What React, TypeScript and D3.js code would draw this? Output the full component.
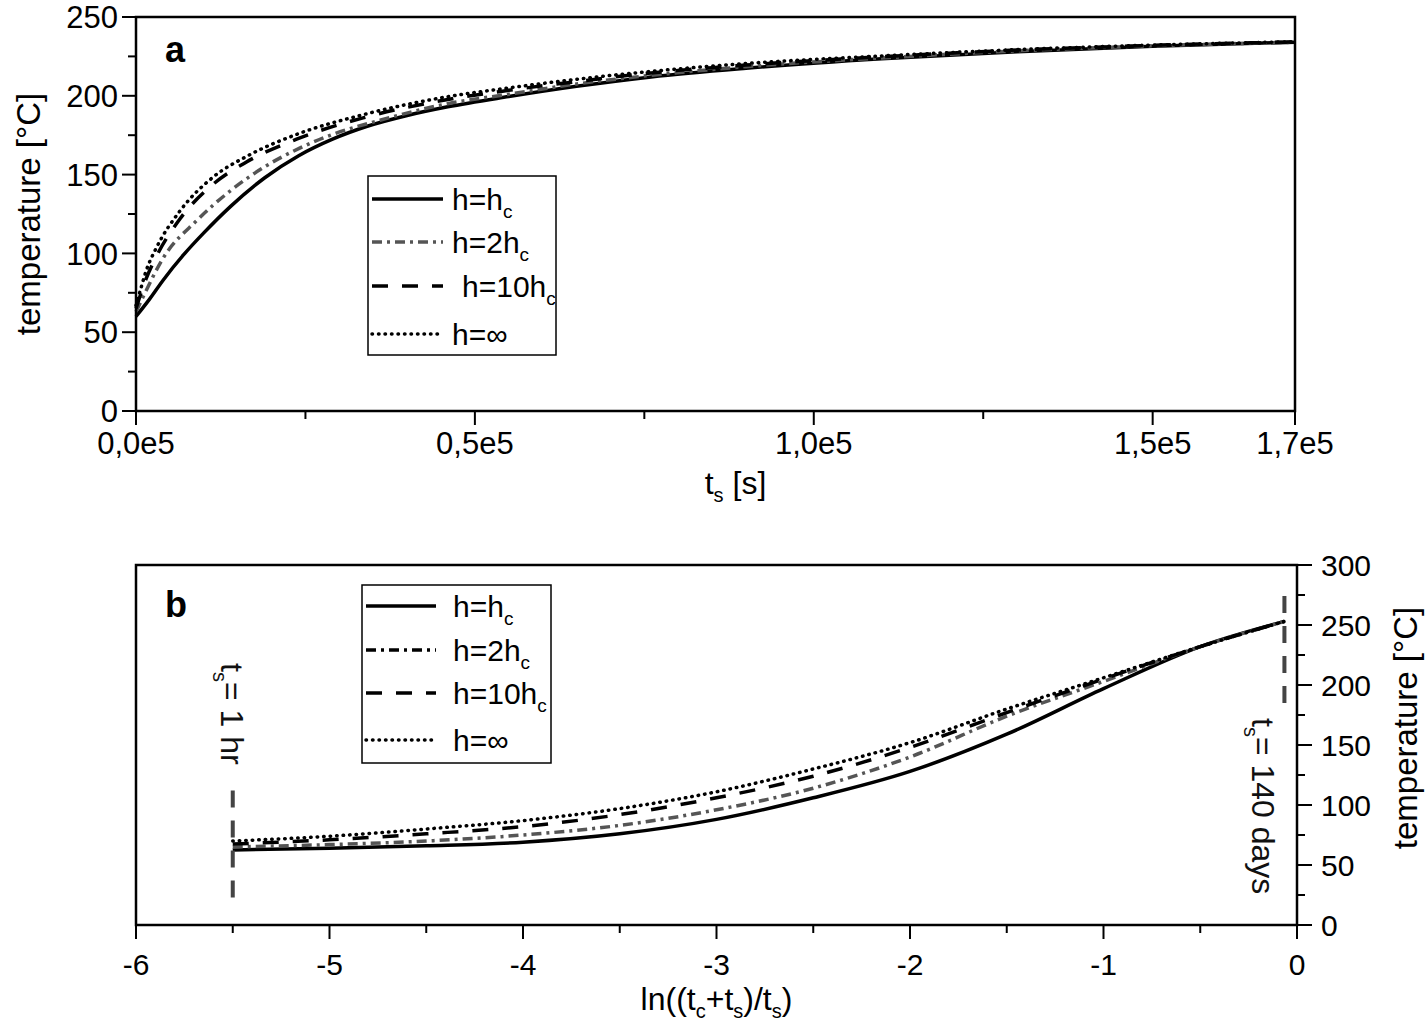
import React from 'react';
import * as d3 from 'd3';

const FONT = '"Liberation Sans", Arial, Helvetica, sans-serif';

// ---- panel a: temperature [°C] against shut-in time t_s [s]
const aSolid: [number, number][] = [
  [0, 60], [2000, 71], [4000, 83], [7000, 99], [10000, 113], [14000, 130],
  [19000, 148], [24000, 162], [29000, 172.5], [34000, 180.5], [40000, 187.5],
  [46000, 193], [55000, 199.5], [65000, 206], [76000, 212], [90000, 217.5],
  [110000, 223.5], [130000, 228], [150000, 231.5], [171000, 234],
];
const aDashDot: [number, number][] = [
  [0, 63], [1000, 72], [4000, 97], [9000, 121], [14000, 140], [19000, 155],
  [24000, 166.5], [29000, 175.5], [36000, 184.5], [46000, 195], [55000, 201],
  [65000, 207.5], [76000, 213], [90000, 218.5], [110000, 224], [130000, 228.5],
  [150000, 231.7], [171000, 234],
];
const aDashed: [number, number][] = [
  [0, 65], [600, 73], [1500, 84], [3000, 98], [6500, 122], [11400, 144],
  [16300, 158], [23700, 172.5], [33500, 186], [45800, 197.5], [55000, 203.5],
  [65000, 209], [76000, 214.5], [90000, 219.5], [110000, 224.8], [130000, 229],
  [150000, 232], [171000, 234.2],
];
const aDotted: [number, number][] = [
  [0, 67], [600, 76], [1500, 89], [3000, 103.5], [6500, 127], [11400, 148.5],
  [16300, 161.5], [23700, 175.5], [33500, 188], [45800, 199.3], [55000, 205],
  [65000, 210.5], [76000, 215.5], [90000, 220.5], [110000, 225.3],
  [130000, 229.3], [150000, 232.2], [171000, 234.3],
];

const aYTicks = [0, 50, 100, 150, 200, 250];
const aYMinor = [25, 75, 125, 175, 225];
const aXTicks = [0, 50000, 100000, 150000, 171000];
const aXLabels = ['0,0e5', '0,5e5', '1,0e5', '1,5e5', '1,7e5'];
const aXMinor = [25000, 75000, 125000];

// ---- panel b: temperature [°C] against ln((t_c+t_s)/t_s)
const bSolid: [number, number][] = [
  [-5.5, 62.5], [-5, 64], [-4.5, 66], [-4, 69], [-3.5, 76], [-3, 88],
  [-2.5, 106], [-2, 128], [-1.5, 159], [-1, 197], [-0.5, 232], [-0.065, 253],
];
const bDashDot: [number, number][] = [
  [-5.5, 65], [-5, 67], [-4.5, 70], [-4, 75], [-3.5, 83], [-3, 96],
  [-2.5, 114], [-2, 140], [-1.5, 174], [-1, 203], [-0.5, 232], [-0.065, 253],
];
const bDashed: [number, number][] = [
  [-5.5, 67.5], [-5, 71], [-4.5, 76], [-4, 82], [-3.5, 92], [-3, 106],
  [-2.5, 124], [-2, 148], [-1.5, 177], [-1, 205], [-0.5, 232], [-0.065, 253],
];
const bDotted: [number, number][] = [
  [-5.5, 70], [-5, 74], [-4.5, 80], [-4, 87], [-3.5, 97], [-3, 111],
  [-2.5, 130], [-2, 152], [-1.5, 180], [-1, 206], [-0.5, 232], [-0.065, 253],
];

const bYTicks = [0, 50, 100, 150, 200, 250, 300];
const bYMinor = [25, 75, 125, 175, 225, 275];
const bXTicks = [-6, -5, -4, -3, -2, -1, 0];
const bXMinor = [-5.5, -4.5, -3.5, -2.5, -1.5, -0.5];

// vertical markers: x position and temperature span
const markerHour = { x: -5.5, from: 23, to: 122 };
const markerDays = { x: -0.065, from: 185, to: 282 };

const legendNames = [
  { pre: 'h=h', sub: 'c' },
  { pre: 'h=2h', sub: 'c' },
  { pre: 'h=10h', sub: 'c' },
  { pre: 'h=∞', sub: '' },
];

const styles = [
  { color: '#000', dash: undefined as string | undefined, cap: 'butt' },
  { color: '#555', dash: '10 5 3 5', cap: 'butt' },
  { color: '#000', dash: '16 14', cap: 'butt' },
  { color: '#000', dash: '0.5 6', cap: 'round' },
];

const xA = d3.scaleLinear().domain([0, 171000]).range([136, 1295]);
const yA = d3.scaleLinear().domain([0, 250]).range([411, 17]);
const xB = d3.scaleLinear().domain([-6, 0]).range([136, 1297]);
const yB = d3.scaleLinear().domain([0, 300]).range([925, 565]);

function Sub({ pre, sub, size, subSize }: { pre: string; sub: string; size: number; subSize: number }) {
  return (
    <>
      <tspan fontSize={size}>{pre}</tspan>
      {sub && <tspan fontSize={subSize} dy={8}>{sub}</tspan>}
    </>
  );
}

function Legend({ x, y, w, h, rows, sx0, sx1, tx, colors }: any) {
  return (
    <g>
      <rect x={x} y={y} width={w} height={h} fill="white" stroke="#000" strokeWidth={1.5} />
      {legendNames.map((n, i) => (
        <g key={i}>
          <line x1={sx0} x2={sx1} y1={rows[i]} y2={rows[i]}
            stroke={colors[i]} strokeWidth={3.5}
            strokeDasharray={styles[i].dash} strokeLinecap={styles[i].cap as any} />
          <text x={tx[i]} y={rows[i] + 11} fontFamily={FONT} fill="#000">
            <Sub pre={n.pre} sub={n.sub} size={30} subSize={19} />
          </text>
        </g>
      ))}
    </g>
  );
}

export default function App() {
  const lineA = d3.line<[number, number]>().x(d => xA(d[0])).y(d => yA(d[1])).curve(d3.curveMonotoneX);
  const lineB = d3.line<[number, number]>().x(d => xB(d[0])).y(d => yB(d[1])).curve(d3.curveMonotoneX);
  const aSeries = [aSolid, aDashDot, aDashed, aDotted];
  const bSeries = [bSolid, bDashDot, bDashed, bDotted];
  const [ax0, ax1] = xA.range();
  const [ay0, ay1] = yA.range();
  const [bx0, bx1] = xB.range();
  const [by0, by1] = yB.range();

  return (
    <svg width={1427} height={1032} style={{ position: 'absolute', left: 0, top: 0, background: '#fff' }}>
      {/* ---------- panel a ---------- */}
      {aSeries.map((s, i) => (
        <path key={'a' + i} d={lineA(s) || ''} fill="none" stroke={styles[i].color}
          strokeWidth={3.5} strokeDasharray={styles[i].dash} strokeLinecap={styles[i].cap as any} />
      ))}
      <rect x={ax0} y={ay1} width={ax1 - ax0} height={ay0 - ay1} fill="none" stroke="#000" strokeWidth={2.5} />
      {aYTicks.map(t => (
        <g key={'ay' + t}>
          <line x1={ax0 - 14} x2={ax0} y1={yA(t)} y2={yA(t)} stroke="#000" strokeWidth={2} />
          <text x={ax0 - 18} y={yA(t)} dy="0.36em" textAnchor="end" fontFamily={FONT} fontSize={31}>{t}</text>
        </g>
      ))}
      {aYMinor.map(t => (
        <line key={'aym' + t} x1={ax0 - 8} x2={ax0} y1={yA(t)} y2={yA(t)} stroke="#000" strokeWidth={2} />
      ))}
      {aXTicks.map((t, i) => (
        <g key={'ax' + t}>
          <line x1={xA(t)} x2={xA(t)} y1={ay0} y2={ay0 + 14} stroke="#000" strokeWidth={2} />
          <text x={xA(t)} y={ay0 + 43} textAnchor="middle" fontFamily={FONT} fontSize={31}>{aXLabels[i]}</text>
        </g>
      ))}
      {aXMinor.map(t => (
        <line key={'axm' + t} x1={xA(t)} x2={xA(t)} y1={ay0} y2={ay0 + 8} stroke="#000" strokeWidth={2} />
      ))}
      <text x={(ax0 + ax1) / 2 + 20} y={494} textAnchor="middle" fontFamily={FONT}>
        <Sub pre="t" sub="s" size={32} subSize={20} />
        <tspan fontSize={32} dy={-8}> [s]</tspan>
      </text>
      <text transform={`translate(40,${(ay0 + ay1) / 2}) rotate(-90)`} textAnchor="middle"
        fontFamily={FONT} fontSize={33}>temperature [°C]</text>
      <text x={165} y={62} fontFamily={FONT} fontSize={36} fontWeight="bold">a</text>
      <Legend x={368} y={176} w={188} h={179} rows={[199, 242, 286, 334]} sx0={372} sx1={443}
        tx={[452, 452, 462, 452]} colors={['#000', '#555', '#000', '#000']} />

      {/* ---------- panel b ---------- */}
      {bSeries.map((s, i) => (
        <path key={'b' + i} d={lineB(s) || ''} fill="none" stroke={styles[i].color}
          strokeWidth={3.5} strokeDasharray={styles[i].dash} strokeLinecap={styles[i].cap as any} />
      ))}
      {[markerHour, markerDays].map((m, i) => (
        <line key={'m' + i} x1={xB(m.x)} x2={xB(m.x)} y1={yB(m.from)} y2={yB(m.to)}
          stroke="#444" strokeWidth={4} strokeDasharray="17 13" />
      ))}
      <text transform={`translate(${xB(markerHour.x) - 12},${yB(markerHour.to) - 14}) rotate(90)`}
        textAnchor="end" fontFamily={FONT} fill="#111">
        <Sub pre="t" sub="s" size={32} subSize={20} />
        <tspan fontSize={32} dy={-8}>= 1 hr</tspan>
      </text>
      <text transform={`translate(${xB(markerDays.x) - 32},${yB(markerDays.from) + 15}) rotate(90)`}
        textAnchor="start" fontFamily={FONT} fill="#111">
        <Sub pre="t" sub="s" size={32} subSize={20} />
        <tspan fontSize={32} dy={-8}>= 140 days</tspan>
      </text>
      <rect x={bx0} y={by1} width={bx1 - bx0} height={by0 - by1} fill="none" stroke="#000" strokeWidth={2.5} />
      {bYTicks.map(t => (
        <g key={'by' + t}>
          <line x1={bx1} x2={bx1 + 15} y1={yB(t)} y2={yB(t)} stroke="#000" strokeWidth={2} />
          <text x={bx1 + 24} y={yB(t)} dy="0.36em" textAnchor="start" fontFamily={FONT} fontSize={30}>{t}</text>
        </g>
      ))}
      {bYMinor.map(t => (
        <line key={'bym' + t} x1={bx1} x2={bx1 + 8} y1={yB(t)} y2={yB(t)} stroke="#000" strokeWidth={2} />
      ))}
      {bXTicks.map(t => (
        <g key={'bx' + t}>
          <line x1={xB(t)} x2={xB(t)} y1={by0} y2={by0 + 14} stroke="#000" strokeWidth={2} />
          <text x={xB(t)} y={by0 + 50} textAnchor="middle" fontFamily={FONT} fontSize={30}>{t}</text>
        </g>
      ))}
      {bXMinor.map(t => (
        <line key={'bxm' + t} x1={xB(t)} x2={xB(t)} y1={by0} y2={by0 + 8} stroke="#000" strokeWidth={2} />
      ))}
      <text x={(bx0 + bx1) / 2} y={1010} textAnchor="middle" fontFamily={FONT} fontSize={32}>
        <tspan>ln((t</tspan><tspan fontSize={20} dy={8}>c</tspan>
        <tspan dy={-8}>+t</tspan><tspan fontSize={20} dy={8}>s</tspan>
        <tspan dy={-8}>)/t</tspan><tspan fontSize={20} dy={8}>s</tspan>
        <tspan dy={-8}>)</tspan>
      </text>
      <text transform={`translate(1417,728) rotate(-90)`} textAnchor="middle"
        fontFamily={FONT} fontSize={33}>temperature [°C]</text>
      <text x={165} y={617} fontFamily={FONT} fontSize={36} fontWeight="bold">b</text>
      <Legend x={362} y={585} w={189} h={178} rows={[606, 650, 693, 740]} sx0={366} sx1={436}
        tx={[453, 453, 453, 453]} colors={['#000', '#000', '#000', '#000']} />
    </svg>
  );
}
